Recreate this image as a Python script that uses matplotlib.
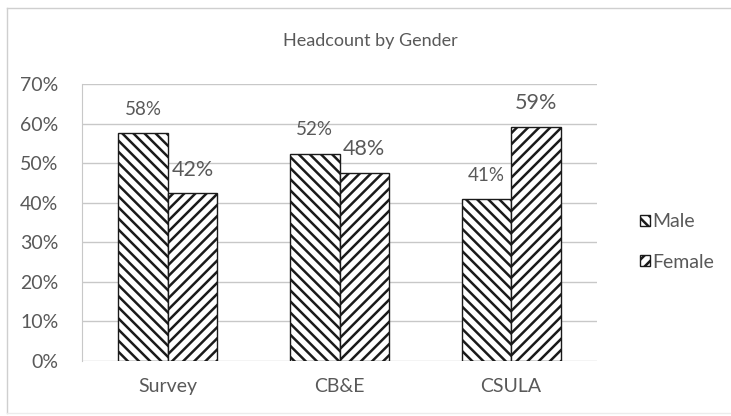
import matplotlib
matplotlib.use("Agg")
import matplotlib.pyplot as plt
import numpy as np
from matplotlib.lines import Line2D

categories = ["Survey", "CB&E", "CSULA"]
male = [57.6, 52.4, 40.9]
female = [42.4, 47.6, 59.1]
yticks = [0, 10, 20, 30, 40, 50, 60, 70]

plt.rcParams["font.family"] = ["Lato", "DejaVu Sans"]
plt.rcParams["hatch.linewidth"] = 1.8
plt.rcParams["hatch.color"] = "#1a1a1a"
txt = "#595959"

fig = plt.figure(figsize=(7.31, 4.16), dpi=100)
ax = fig.add_axes([0.1122, 0.1322, 0.7045, 0.666])

x = np.arange(len(categories))
w = 0.288
b1 = ax.bar(x - w / 2, male, w, color="white", edgecolor="#1a1a1a", linewidth=1.0,
            hatch="\\\\\\", label="Male", zorder=3)
b2 = ax.bar(x + w / 2, female, w, color="white", edgecolor="#1a1a1a", linewidth=1.0,
            hatch="///", label="Female", zorder=3)

for r, v in zip(b1, male):
    ax.annotate(f"{round(v)}%", (r.get_x() + r.get_width() / 2, v), xytext=(0, 17),
                textcoords="offset points", ha="center", va="center", fontsize=13.5, color=txt)
for r, v in zip(b2, female):
    ax.annotate(f"{round(v)}%", (r.get_x() + r.get_width() / 2, v), xytext=(0, 17),
                textcoords="offset points", ha="center", va="center", fontsize=15.5, color=txt)

ax.set_xlim(-0.5, 2.5)
ax.set_ylim(0, 70)
ax.set_yticks(yticks)
ax.set_yticklabels([f"{t}%" for t in yticks])
ax.set_xticks(x)
ax.set_xticklabels(categories)
ax.tick_params(axis="both", length=0, colors=txt, labelsize=14)
ax.tick_params(axis="y", pad=17)
ax.tick_params(axis="x", pad=12)
ax.grid(axis="y", color="#c8c8c8", linewidth=1.0, zorder=0)
for s in ["top", "right", "bottom"]:
    ax.spines[s].set_visible(False)
ax.spines["left"].set_color("#c8c8c8")

# title centred on the whole chart area, not the plot area
fig.text(370 / 731, 1 - 41 / 416, "Headcount by Gender", fontsize=13, color=txt,
         ha="center", va="center")

ax.legend(loc="center left", bbox_to_anchor=(1.05, 0.43), frameon=False, fontsize=14,
          labelcolor=txt, handlelength=0.5, handleheight=0.5, handletextpad=0.1,
          labelspacing=1.2)

# outer chart border
fig.add_artist(Line2D([7 / 731, 7 / 731], [1 - 8 / 416, 1 - 413 / 416], color="#cfcfcf", lw=1.0))
fig.add_artist(Line2D([7 / 731, 1], [1 - 8 / 416, 1 - 8 / 416], color="#cfcfcf", lw=1.0))
fig.add_artist(Line2D([7 / 731, 1], [1 - 413 / 416, 1 - 413 / 416], color="#ececec", lw=1.0))

fig.savefig("out.png", dpi=100)
